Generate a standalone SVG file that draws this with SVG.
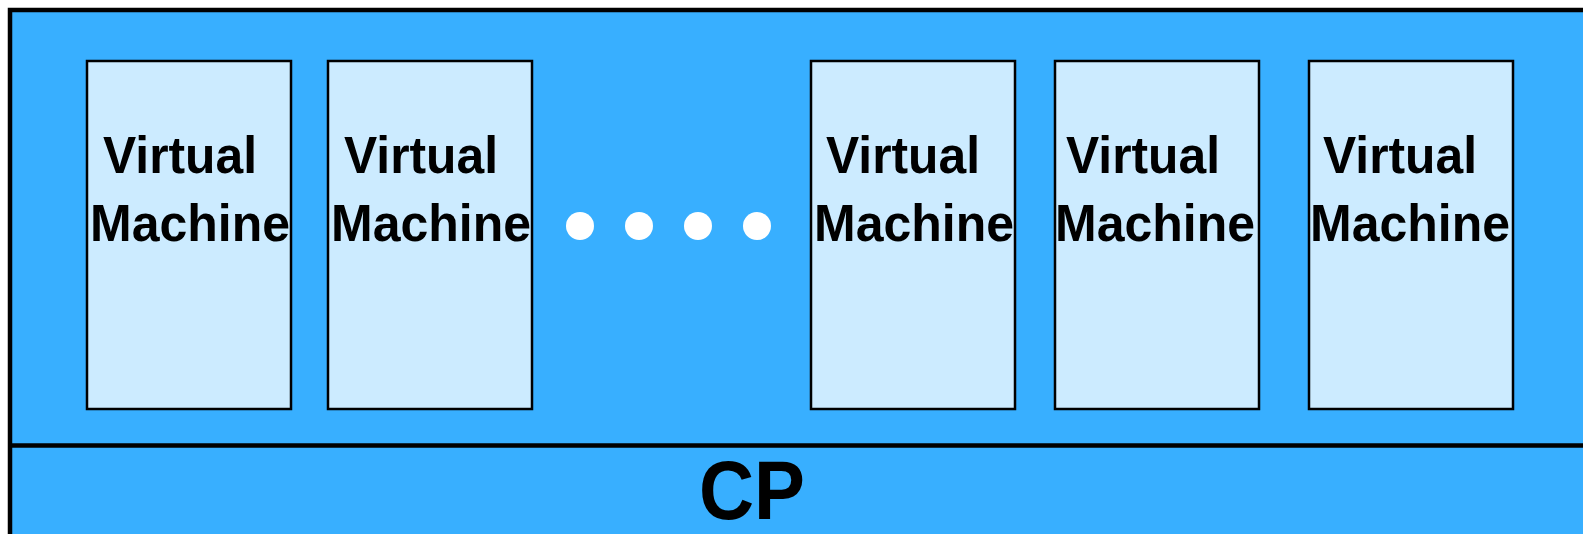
<svg xmlns="http://www.w3.org/2000/svg" width="1583" height="534" viewBox="0 0 1583 534">
<style>
.vm{fill:#CCEBFF;stroke:#000;stroke-width:2.5}
.t{font-family:"Liberation Sans",Arial,sans-serif;font-weight:bold;font-size:52px;fill:#000}
.cp{font-family:"Liberation Sans",Arial,sans-serif;font-weight:bold;font-size:84px;fill:#000}
.dot{fill:#fff}
</style>
<rect width="1583" height="534" fill="#fff"/>
<g id="host">
<rect x="10" y="10" width="1590" height="540" fill="#38AFFF" stroke="#000" stroke-width="4.5"/>
</g>
<g id="connectors">
<line x1="10" y1="445.5" x2="1583" y2="445.5" stroke="#000" stroke-width="4.5"/>
</g>
<g id="cp"><text class="cp" x="699" y="519" textLength="106" lengthAdjust="spacingAndGlyphs">CP</text></g>
<g id="vm1"><rect class="vm" x="87" y="61" width="204" height="348"/><text class="t" x="103" y="173" textLength="154" lengthAdjust="spacingAndGlyphs">Virtual</text><text class="t" x="90" y="241" textLength="200" lengthAdjust="spacingAndGlyphs">Machine</text></g>
<g id="vm2"><rect class="vm" x="328" y="61" width="204" height="348"/><text class="t" x="344" y="173" textLength="154" lengthAdjust="spacingAndGlyphs">Virtual</text><text class="t" x="331" y="241" textLength="200" lengthAdjust="spacingAndGlyphs">Machine</text></g>
<g id="vm3"><rect class="vm" x="811" y="61" width="204" height="348"/><text class="t" x="826" y="173" textLength="154" lengthAdjust="spacingAndGlyphs">Virtual</text><text class="t" x="814" y="241" textLength="200" lengthAdjust="spacingAndGlyphs">Machine</text></g>
<g id="vm4"><rect class="vm" x="1055" y="61" width="204" height="348"/><text class="t" x="1066" y="173" textLength="154" lengthAdjust="spacingAndGlyphs">Virtual</text><text class="t" x="1055" y="241" textLength="200" lengthAdjust="spacingAndGlyphs">Machine</text></g>
<g id="vm5"><rect class="vm" x="1309" y="61" width="204" height="348"/><text class="t" x="1323" y="173" textLength="154" lengthAdjust="spacingAndGlyphs">Virtual</text><text class="t" x="1310" y="241" textLength="200" lengthAdjust="spacingAndGlyphs">Machine</text></g>
<g id="dots">
<circle class="dot" cx="580" cy="226" r="14"/>
<circle class="dot" cx="639" cy="226" r="14"/>
<circle class="dot" cx="698" cy="226" r="14"/>
<circle class="dot" cx="757" cy="226" r="14"/>
</g>
</svg>
